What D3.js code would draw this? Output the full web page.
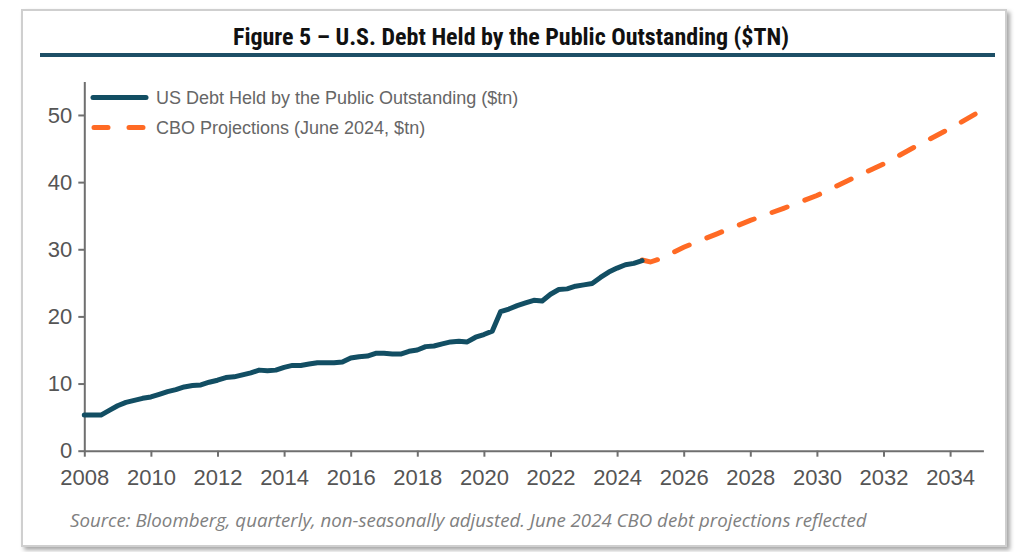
<!DOCTYPE html>
<html>
<head>
<meta charset="utf-8">
<script src="https://cdn.jsdelivr.net/npm/d3@7"></script>
<style>
  html, body { margin: 0; padding: 0; background: #ffffff; }
  svg { display: block; }
</style>
</head>
<body>
<svg id="chart" width="1018" height="552"></svg>
<script>
// Quarterly observations (year fraction) of US debt held by the public, $tn
const histQuarters = [
  2008.00, 2008.25, 2008.50, 2008.75, 2009.00, 2009.25, 2009.50, 2009.75,
  2010.00, 2010.25, 2010.50, 2010.75, 2011.00, 2011.25, 2011.50, 2011.75,
  2012.00, 2012.25, 2012.50, 2012.75, 2013.00, 2013.25, 2013.50, 2013.75,
  2014.00, 2014.25, 2014.50, 2014.75, 2015.00, 2015.25, 2015.50, 2015.75,
  2016.00, 2016.25, 2016.50, 2016.75, 2017.00, 2017.25, 2017.50, 2017.75,
  2018.00, 2018.25, 2018.50, 2018.75, 2019.00, 2019.25, 2019.50, 2019.75,
  2020.00, 2020.25, 2020.50, 2020.75, 2021.00, 2021.25, 2021.50, 2021.75,
  2022.00, 2022.25, 2022.50, 2022.75, 2023.00, 2023.25, 2023.50, 2023.75,
  2024.00, 2024.25, 2024.50, 2024.75
];
const histDebt = [
  5.3, 5.3, 5.3, 6.0, 6.7, 7.2, 7.5, 7.8,
  8.0, 8.4, 8.8, 9.1, 9.5, 9.7, 9.8, 10.2,
  10.5, 10.9, 11.0, 11.3, 11.6, 12.0, 11.9, 12.0,
  12.4, 12.7, 12.7, 12.9, 13.1, 13.1, 13.1, 13.2,
  13.8, 14.0, 14.1, 14.5, 14.5, 14.4, 14.4, 14.8,
  15.0, 15.5, 15.6, 15.9, 16.2, 16.3, 16.2, 16.9,
  17.3, 17.8, 20.7, 21.1, 21.6, 22.0, 22.4, 22.3,
  23.3, 24.0, 24.1, 24.5, 24.7, 24.9, 25.8, 26.6,
  27.2, 27.7, 27.9, 28.3
];

// CBO projection path, June 2024, $tn
const projYears = [2024.75, 2025.00, 2025.25, 2026, 2027, 2028, 2029, 2030, 2031, 2032, 2033, 2034, 2034.85];
const projDebt  = [28.4, 28.1, 28.5, 30.3, 32.3, 34.3, 36.1, 38.0, 40.4, 42.7, 45.4, 48.0, 50.4];

const xTicks = [2008, 2010, 2012, 2014, 2016, 2018, 2020, 2022, 2024, 2026, 2028, 2030, 2032, 2034];
const yTicks = [0, 10, 20, 30, 40, 50];

const titleText  = "Figure 5 \u2013 U.S. Debt Held by the Public Outstanding ($TN)";
const legendHist = "US Debt Held by the Public Outstanding ($tn)";
const legendProj = "CBO Projections (June 2024, $tn)";
const sourceText = "Source: Bloomberg, quarterly, non-seasonally adjusted. June 2024 CBO debt projections reflected";

const svg = d3.select("#chart");

// Card frame with soft shadow
const defs = svg.append("defs");
const f = defs.append("filter").attr("id", "shadow")
  .attr("x", "-5%").attr("y", "-5%").attr("width", "110%").attr("height", "110%");
f.append("feDropShadow").attr("dx", 3).attr("dy", 3).attr("stdDeviation", 2)
  .attr("flood-color", "#000").attr("flood-opacity", 0.35);

svg.append("rect")
  .attr("x", 22).attr("y", 10).attr("width", 984).attr("height", 536)
  .attr("fill", "#ffffff").attr("stroke", "#cfcfcf").attr("stroke-width", 2)
  .attr("filter", "url(#shadow)");

// Title and rule
svg.append("text")
  .attr("x", 511).attr("y", 45)
  .attr("text-anchor", "middle")
  .style("font-family", "'Liberation Sans Narrow', 'Roboto Condensed', 'Arial Narrow', 'Liberation Sans', sans-serif")
  .style("font-weight", "bold")
  .style("font-size", "24px")
  .style("fill", "#111")
  .text(titleText);

svg.append("line")
  .attr("x1", 40).attr("x2", 995).attr("y1", 55).attr("y2", 55)
  .attr("stroke", "#1d4f66").attr("stroke-width", 4);

// Scales
const x = d3.scaleLinear().domain([2008, 2035]).range([84.3, 983.4]);
const y = d3.scaleLinear().domain([0, 55]).range([450.7, 81.4]);

const axisColor = "#6f6f6f";
const tickFont = "'Liberation Sans', Arial, sans-serif";

// X axis
const gx = svg.append("g").attr("transform", `translate(0,${y(0)})`)
  .call(d3.axisBottom(x).tickValues(xTicks).tickFormat(d3.format("d")).tickSize(6).tickSizeOuter(0));
gx.select(".domain").attr("stroke", axisColor).attr("stroke-width", 2);
gx.selectAll(".tick line").attr("stroke", axisColor).attr("stroke-width", 2);
gx.selectAll(".tick text")
  .attr("dy", "1.15em")
  .style("font-family", tickFont).style("font-size", "22px").style("fill", "#555");

// Y axis
const gy = svg.append("g").attr("transform", `translate(${x(2008)},0)`)
  .call(d3.axisLeft(y).tickValues(yTicks).tickSize(6).tickSizeOuter(0));
gy.select(".domain").attr("stroke", axisColor).attr("stroke-width", 2);
gy.selectAll(".tick line").attr("stroke", axisColor).attr("stroke-width", 2);
gy.selectAll(".tick text")
  .attr("x", -12)
  .style("font-family", tickFont).style("font-size", "22px").style("fill", "#555");

// Lines
const histColor = "#124e63";
const projColor = "#ff6a24";

const line = d3.line().x(d => x(d[0])).y(d => y(d[1]));

svg.append("path")
  .datum(projYears.map((v, i) => [v, projDebt[i]]))
  .attr("d", line)
  .attr("fill", "none")
  .attr("stroke", projColor).attr("stroke-width", 5)
  .attr("stroke-linecap", "round")
  .attr("stroke-dasharray", "16,19");

svg.append("path")
  .datum(histQuarters.map((v, i) => [v, histDebt[i]]))
  .attr("d", line)
  .attr("fill", "none")
  .attr("stroke", histColor).attr("stroke-width", 5)
  .attr("stroke-linejoin", "round").attr("stroke-linecap", "round");

// Legend
const legend = svg.append("g");
const legendFont = "'Liberation Sans', Arial, sans-serif";
legend.append("line").attr("x1", 93).attr("x2", 146).attr("y1", 97.5).attr("y2", 97.5)
  .attr("stroke", histColor).attr("stroke-width", 5).attr("stroke-linecap", "round");
legend.append("text").attr("x", 156).attr("y", 97.5).attr("dy", "0.35em")
  .style("font-family", legendFont).style("font-size", "18px").style("fill", "#666")
  .text(legendHist);
legend.append("line").attr("x1", 94).attr("x2", 146).attr("y1", 127.5).attr("y2", 127.5)
  .attr("stroke", projColor).attr("stroke-width", 5).attr("stroke-linecap", "round")
  .attr("stroke-dasharray", "14,21");
legend.append("text").attr("x", 156).attr("y", 127.5).attr("dy", "0.35em")
  .style("font-family", legendFont).style("font-size", "18px").style("fill", "#666")
  .text(legendProj);

// Source note
svg.append("text")
  .attr("x", 70).attr("y", 527)
  .style("font-family", "'Open Sans', 'Noto Sans', sans-serif")
  .style("font-style", "italic")
  .style("font-size", "18.7px")
  .style("fill", "#808080")
  .text(sourceText);
</script>
</body>
</html>
